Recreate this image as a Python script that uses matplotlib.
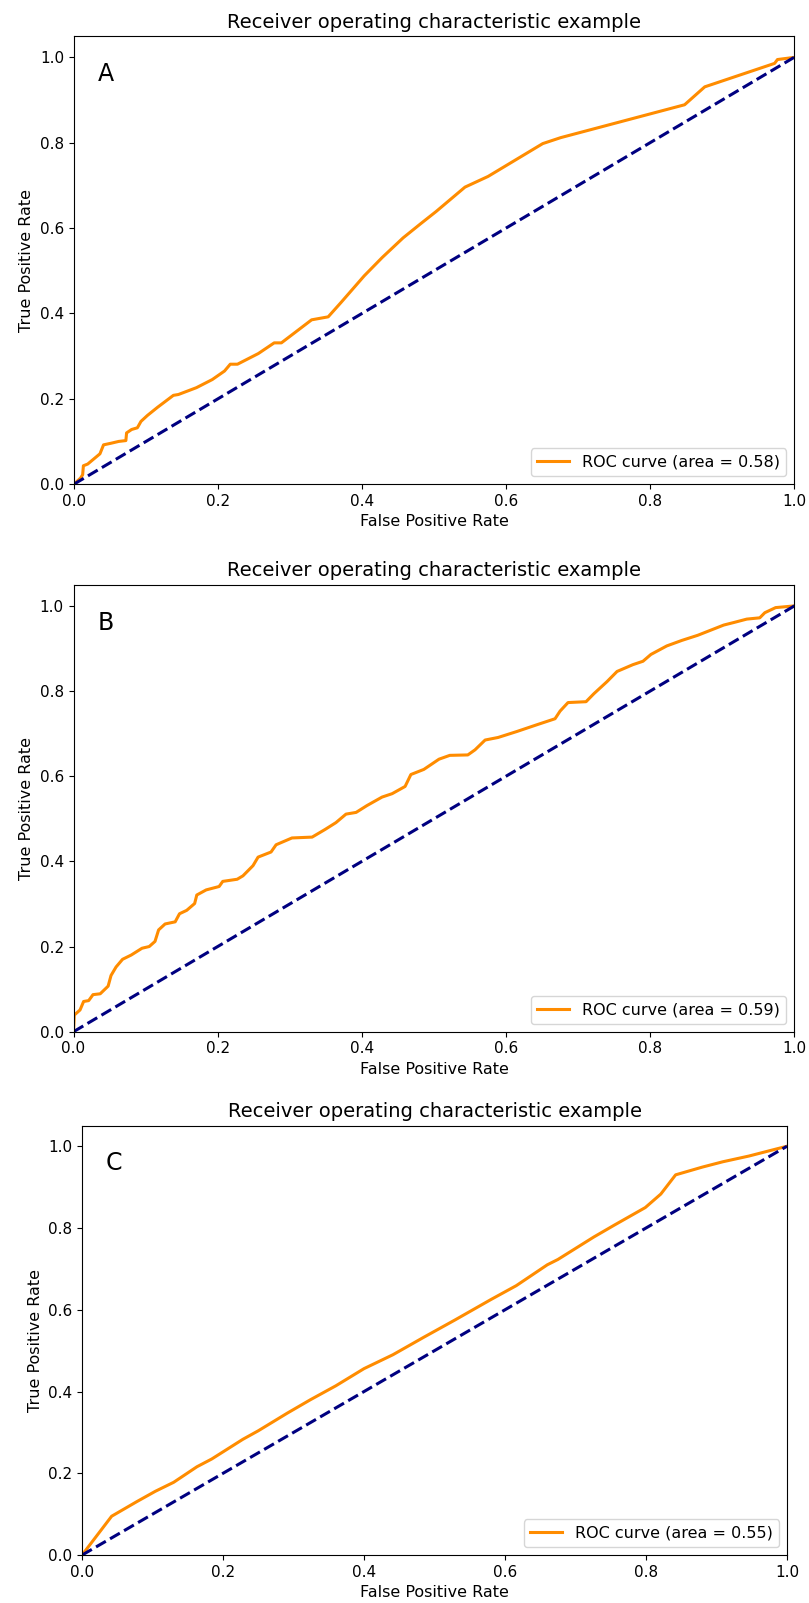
import matplotlib
matplotlib.use('Agg')
import matplotlib.pyplot as plt
import numpy as np

# ROC points
fpr_a = [0.0, 0.009, 0.012, 0.013, 0.019, 0.036, 0.041, 0.052, 0.062, 0.072, 0.073, 0.080, 0.088,
         0.093, 0.102, 0.116, 0.138, 0.145, 0.170, 0.192, 0.209, 0.217, 0.227, 0.256, 0.278, 0.288,
         0.330, 0.353, 0.371, 0.403, 0.428, 0.457, 0.482, 0.503, 0.543, 0.575, 0.651, 0.676, 0.848,
         0.876, 0.973, 0.977, 1.0]
tpr_a = [0.0, 0.014, 0.022, 0.043, 0.047, 0.071, 0.092, 0.096, 0.100, 0.102, 0.120, 0.128, 0.132,
         0.147, 0.161, 0.180, 0.208, 0.210, 0.226, 0.245, 0.265, 0.281, 0.281, 0.306, 0.331, 0.331,
         0.385, 0.392, 0.426, 0.488, 0.531, 0.577, 0.611, 0.639, 0.696, 0.721, 0.798, 0.812, 0.889,
         0.931, 0.986, 0.995, 1.0]

fpr_b = [0.0, 0.001, 0.009, 0.014, 0.021, 0.027, 0.037, 0.048, 0.052, 0.059, 0.068, 0.080, 0.095,
         0.105, 0.113, 0.118, 0.127, 0.141, 0.147, 0.157, 0.168, 0.171, 0.184, 0.202, 0.207, 0.227,
         0.235, 0.249, 0.256, 0.274, 0.281, 0.303, 0.331, 0.349, 0.364, 0.378, 0.392, 0.407, 0.428,
         0.442, 0.460, 0.468, 0.486, 0.507, 0.522, 0.547, 0.557, 0.571, 0.589, 0.615, 0.643, 0.668,
         0.675, 0.686, 0.711, 0.722, 0.740, 0.754, 0.776, 0.790, 0.801, 0.823, 0.844, 0.866, 0.884,
         0.902, 0.916, 0.934, 0.952, 0.959, 0.974, 1.0]
tpr_b = [0.0, 0.039, 0.051, 0.071, 0.073, 0.087, 0.089, 0.107, 0.132, 0.152, 0.170, 0.180, 0.196,
         0.200, 0.212, 0.239, 0.253, 0.258, 0.277, 0.285, 0.301, 0.321, 0.333, 0.341, 0.353, 0.358,
         0.366, 0.390, 0.410, 0.422, 0.439, 0.455, 0.457, 0.475, 0.491, 0.511, 0.515, 0.531, 0.551,
         0.559, 0.576, 0.604, 0.616, 0.640, 0.649, 0.650, 0.662, 0.685, 0.691, 0.705, 0.721, 0.735,
         0.753, 0.773, 0.775, 0.794, 0.822, 0.846, 0.862, 0.870, 0.886, 0.906, 0.919, 0.931, 0.943,
         0.955, 0.961, 0.969, 0.972, 0.984, 0.996, 1.0]

fpr_c = [0.0, 0.042, 0.078, 0.104, 0.130, 0.163, 0.184, 0.228, 0.250, 0.291, 0.324, 0.360, 0.400,
         0.441, 0.485, 0.529, 0.580, 0.616, 0.660, 0.675, 0.726, 0.755, 0.799, 0.821, 0.842, 0.880,
         0.909, 0.946, 1.0]
tpr_c = [0.0, 0.095, 0.131, 0.156, 0.178, 0.216, 0.235, 0.283, 0.304, 0.347, 0.380, 0.414, 0.456,
         0.490, 0.533, 0.575, 0.625, 0.659, 0.710, 0.723, 0.778, 0.807, 0.850, 0.883, 0.930, 0.949,
         0.962, 0.976, 1.0]

panels = ['A', 'B', 'C']
areas = [0.58, 0.59, 0.55]
curves = [(fpr_a, tpr_a), (fpr_b, tpr_b), (fpr_c, tpr_c)]

# axes boxes in figure fractions (left, bottom, width, height)
boxes = [(0.0915, 0.698, 0.890, 0.2795),
         (0.0909, 0.3564, 0.891, 0.2789),
         (0.1014, 0.0299, 0.8714, 0.2678)]

fig = plt.figure(figsize=(8.09, 16.03), dpi=100)
for name, area, (fpr, tpr), box in zip(panels, areas, curves, boxes):
    ax = fig.add_axes(box)
    ax.plot(fpr, tpr, color='darkorange', lw=2.2, label='ROC curve (area = %0.2f)' % area)
    ax.plot([0, 1], [0, 1], color='navy', lw=2.2, linestyle='--')
    ax.set_xlim([0.0, 1.0])
    ax.set_ylim([0.0, 1.05])
    ax.set_xlabel('False Positive Rate', fontsize=11.5)
    ax.set_ylabel('True Positive Rate', fontsize=11.5)
    ax.set_title('Receiver operating characteristic example', fontsize=14)
    ax.tick_params(labelsize=11)
    ax.legend(loc='lower right', fontsize=11.5)
    ax.text(0.033, 0.96, name, fontsize=17, ha='left', va='center')

fig.savefig('out.png', dpi=100)
